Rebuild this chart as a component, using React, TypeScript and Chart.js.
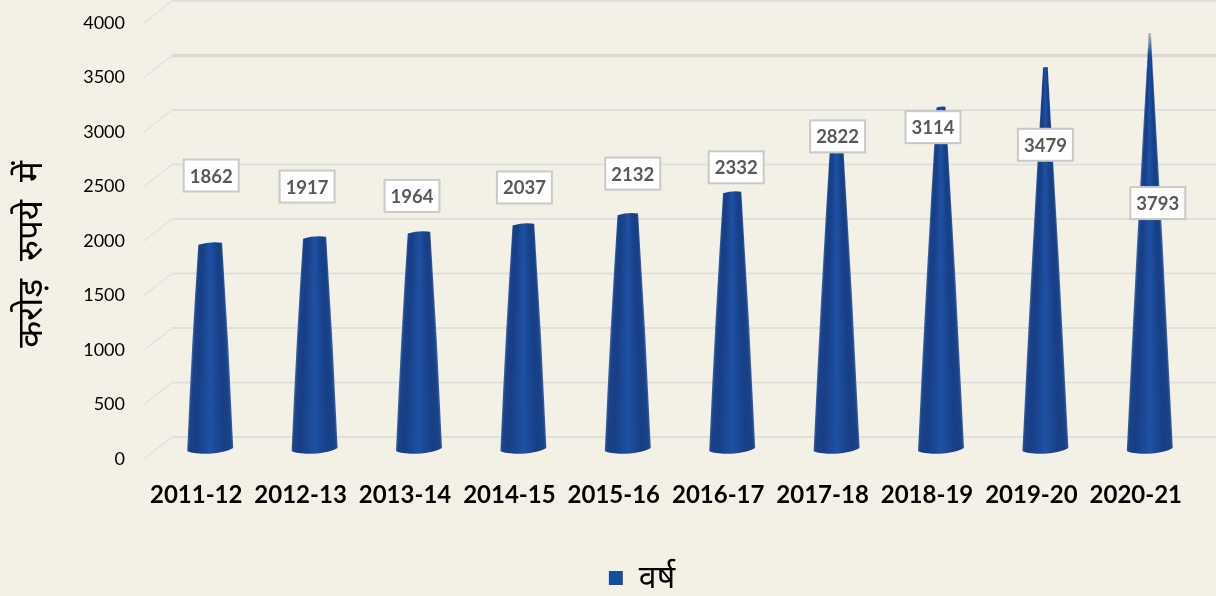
import React, { useEffect, useRef } from "react";
import { Chart, BarElement, registerables } from "chart.js";

const years = ["2011-12", "2012-13", "2013-14", "2014-15", "2015-16", "2016-17", "2017-18", "2018-19", "2019-20", "2020-21"];
const amounts = [1862, 1917, 1964, 2037, 2132, 2332, 2822, 3114, 3479, 3793];
const yTicks = [0, 500, 1000, 1500, 2000, 2500, 3000, 3500, 4000];
const seriesName = "वर्ष";
const axisTitle = "करोड़  रुपये  में\u00A0\u00A0\u00A0";

// label box offsets from each cone's tip (hand-placed in the source chart)
const labelDx = [1, -7.5, -7, 1, 5, 4, 1, -8, 0, 8];
const labelDy = [-69.5, -52.5, -38, -38.5, -42, -26.5, -4, 18.6, 76, 168.5];

const BG = "#f3f1e6";
const BLUE = "#14509a";
const UI_FONT = "Lato, 'Noto Sans', sans-serif";
const DEPTH_X = 28;
const DEPTH_Y = 22;
const APEX_HEIGHT = 424;

class ConeElement extends BarElement {
  static id = "cone";
  draw(ctx: CanvasRenderingContext2D) {
    const { x, y, base, width } = (this as any).getProps(["x", "y", "base", "width"], true);
    const cx = x + DEPTH_X / 2;
    const by = base - DEPTH_Y / 2;
    const ty = y - DEPTH_Y / 2 - 1.5;
    const hb = width / 2;
    const ht = Math.max(hb * (1 - (by - ty) / APEX_HEIGHT), 1);
    const k = ht / 12;
    const apexY = by - APEX_HEIGHT;
    const a = Math.atan(hb / APEX_HEIGHT);
    const frac = (2 * a) / (2 * Math.PI);
    const g = (ctx as any).createConicGradient(Math.PI / 2 - a, cx, apexY);
    const stops: [number, string][] = [
      [0, "#3a5f9f"], [0.05, "#1a4288"], [0.2, "#173f86"], [0.5, "#1f51a4"], [0.8, "#183f86"], [0.95, "#1a4288"], [1, "#3a5f9f"],
    ];
    stops.forEach(([p, c]) => g.addColorStop(p * frac, c));
    ctx.save();
    ctx.fillStyle = g;
    ctx.beginPath();
    ctx.moveTo(cx - ht, ty + 1.2 * k);
    ctx.quadraticCurveTo(cx, ty - 2.5 * k, cx + ht, ty - 0.8 * k);
    ctx.quadraticCurveTo(cx + (ht + hb) / 2 + 1.2, (ty + by) / 2, cx + hb, by);
    ctx.bezierCurveTo(cx + hb - 10, by + 6.5, cx - hb + 8, by + 7.5, cx - hb, by + 3);
    ctx.quadraticCurveTo(cx - (ht + hb) / 2 - 1.2, (ty + by) / 2, cx - ht, ty + 1.2 * k);
    ctx.closePath();
    ctx.fill();
    if (ht < 1.5) {
      const fade = ctx.createLinearGradient(0, ty - 2, 0, ty + 22);
      fade.addColorStop(0, "rgba(243,241,230,0.75)");
      fade.addColorStop(1, "rgba(243,241,230,0)");
      ctx.fillStyle = fade;
      ctx.fill();
    }
    ctx.restore();
  }
}

Chart.register(...registerables, ConeElement as any);
(Chart.defaults as any).datasets.bar.dataElementType = "cone";

const wallGrid = {
  id: "wallGrid",
  beforeDatasetsDraw(chart: any) {
    const { ctx, chartArea, scales } = chart;
    ctx.save();
    yTicks.forEach((v) => {
      const py = scales.y.getPixelForValue(v);
      ctx.strokeStyle = "#e2e2de";
      ctx.lineWidth = 1.5;
      ctx.beginPath();
      ctx.moveTo(chartArea.left, py);
      ctx.lineTo(chartArea.left + DEPTH_X, py - DEPTH_Y);
      ctx.stroke();
      ctx.strokeStyle = v === 3500 ? "#d9d9d6" : "#dfdfdb";
      ctx.lineWidth = v === 3500 ? 3.5 : 2;
      ctx.beginPath();
      ctx.moveTo(chartArea.left + DEPTH_X, py - DEPTH_Y);
      ctx.lineTo(chartArea.right + DEPTH_X, py - DEPTH_Y);
      ctx.stroke();
    });
    ctx.restore();
  },
};

const boxLabels = {
  id: "boxLabels",
  afterDatasetsDraw(chart: any) {
    const { ctx } = chart;
    const meta = chart.getDatasetMeta(0);
    ctx.save();
    ctx.font = `bold 18.5px ${UI_FONT}`;
    ctx.textAlign = "center";
    ctx.textBaseline = "middle";
    meta.data.forEach((el: any, i: number) => {
      const cx = el.x + DEPTH_X / 2 + labelDx[i];
      const cy = el.y - DEPTH_Y / 2 + labelDy[i];
      ctx.fillStyle = "#ffffff";
      ctx.strokeStyle = "#c9c9c9";
      ctx.lineWidth = 2;
      ctx.fillRect(cx - 27.5, cy - 16, 55, 32);
      ctx.strokeRect(cx - 27.5, cy - 16, 55, 32);
      ctx.fillStyle = "#595959";
      ctx.fillText(String(amounts[i]), cx, cy + 1);
    });
    ctx.restore();
  },
};

const legendPlacement = {
  id: "legendPlacement",
  afterLayout(chart: any) {
    chart.legend.left += 96;
    chart.legend.top += 8;
    chart.legend.bottom += 8;
  },
};

export default function App() {
  const ref = useRef<HTMLCanvasElement>(null);
  useEffect(() => {
    document.body.style.margin = "0";
    document.body.style.background = BG;
    const chart = new Chart(ref.current!, {
      type: "bar",
      data: {
        labels: years,
        datasets: [{ label: seriesName, data: amounts, backgroundColor: BLUE, borderWidth: 0, barThickness: 46 }],
      },
      plugins: [wallGrid, boxLabels, legendPlacement],
      options: {
        animation: false,
        responsive: false,
        events: [],
        layout: { padding: { top: 23, right: 28, left: 0, bottom: 0 } },
        plugins: {
          tooltip: { enabled: false },
          legend: {
            position: "bottom",
            labels: {
              boxWidth: 14,
              boxHeight: 14,
              padding: 8,
              color: "#000000",
              font: { family: UI_FONT, size: 32 },
            },
          },
        },
        scales: {
          x: {
            grid: { display: false, drawTicks: false },
            border: { display: false },
            ticks: { color: "#000000", padding: 22, maxRotation: 0, autoSkip: false, font: { family: UI_FONT, size: 24, weight: "bold" } },
            afterFit: (s: any) => { s.height = 87; },
          },
          y: {
            min: 0,
            max: 4000,
            grid: { display: false, drawTicks: false },
            border: { display: false },
            afterBuildTicks: (s: any) => { s.ticks = yTicks.map((value) => ({ value })); },
            ticks: { color: "#000000", padding: 19, font: { family: UI_FONT, size: 18 }, callback: (v: any) => String(v) },
            title: { display: true, text: axisTitle, color: "#000000", padding: { top: 10, bottom: 0 }, font: { family: UI_FONT, size: 35 } },
            afterFit: (s: any) => { s.width = 144; s.paddingTop = 0; s.paddingBottom = 0; },
          },
        },
      } as any,
    });
    return () => chart.destroy();
  }, []);
  return (
    <div style={{ position: "fixed", left: 0, top: 0, width: 1216, height: 596, background: BG }}>
      <canvas ref={ref} width={1216} height={596} style={{ display: "block" }} />
    </div>
  );
}
